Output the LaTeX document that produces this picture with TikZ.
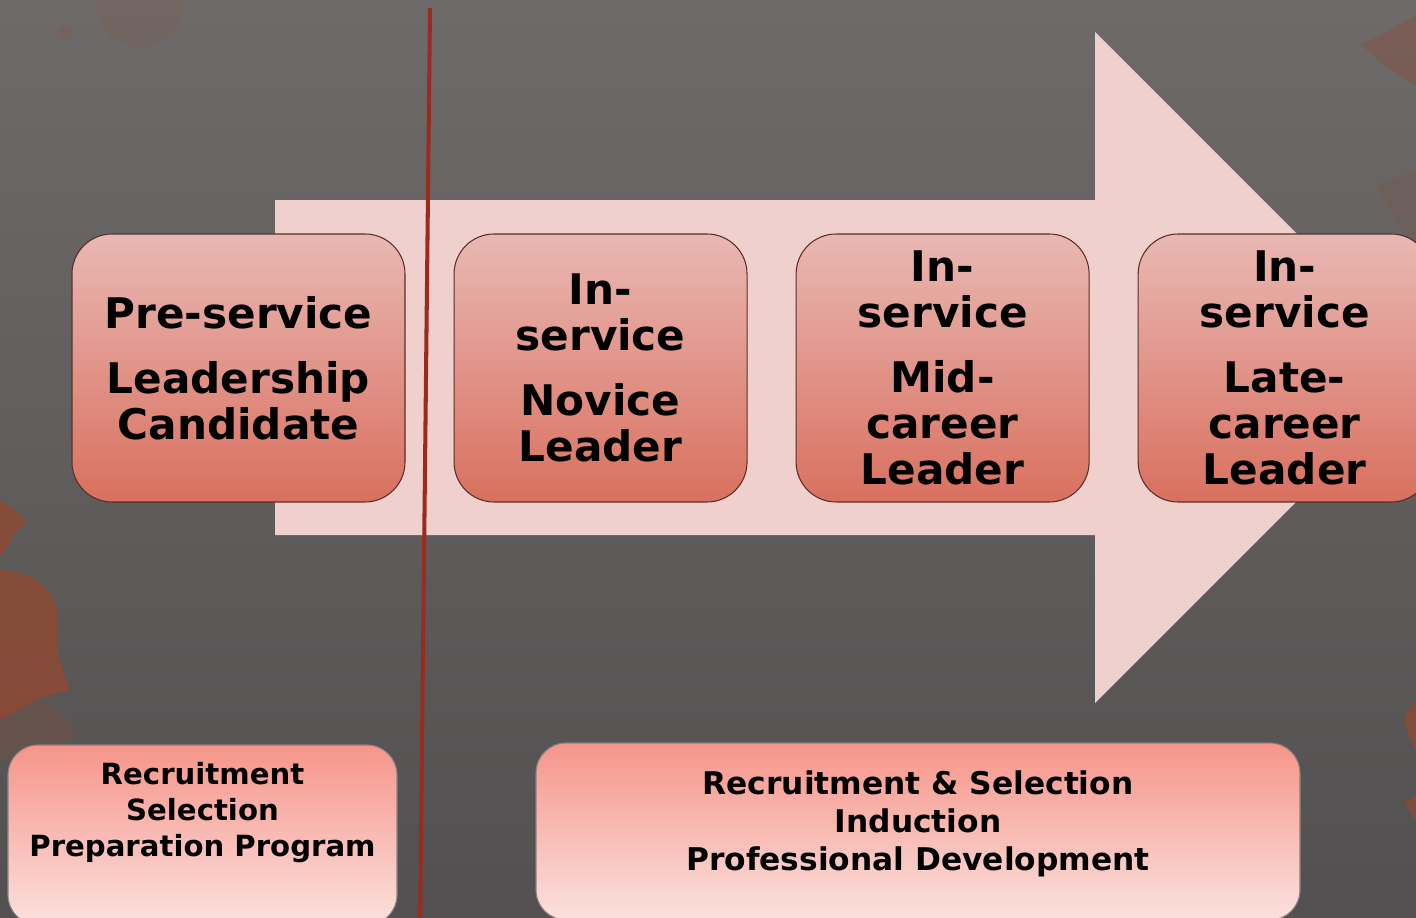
\documentclass[tikz,border=0pt]{standalone}
\usepackage{fontspec}
\setmainfont{DejaVu Sans}
\usepackage{tikz}
\usetikzlibrary{positioning}

\definecolor{bgtop}{HTML}{6E6A69}
\definecolor{bgbottom}{HTML}{525050}
\definecolor{leafred}{HTML}{8E4A35}
\definecolor{arrowpink}{HTML}{EFD0CD}
\definecolor{divider}{HTML}{9A2C1F}
\definecolor{stagetop}{HTML}{E9B8B3}
\definecolor{stagebottom}{HTML}{D9705F}
\definecolor{stageline}{HTML}{5A2E28}
\definecolor{tasktop}{HTML}{F6958A}
\definecolor{taskbottom}{HTML}{FBE1DE}
\definecolor{taskline}{HTML}{8A8080}

\newcommand{\stagefont}{\fontsize{12}{13.1}\selectfont\bfseries}
\newcommand{\taskfont}{\fontsize{8.3}{10.2}\selectfont\bfseries}

\begin{document}
\begin{tikzpicture}[node distance=0.48cm,
    stage/.style={rectangle, rounded corners=0.4cm, draw=stageline, line width=0.3pt,
        top color=stagetop, bottom color=stagebottom, minimum height=2.68cm,
        inner sep=0pt, align=center, font=\stagefont},
    task/.style={rectangle, rounded corners=0.3cm, draw=taskline, line width=0.3pt,
        top color=tasktop, bottom color=taskbottom, inner sep=0pt,
        align=center, font=\taskfont}]
        % Background
        \clip (0,0) rectangle (14.16,-9.18);
        \shade[top color=bgtop, bottom color=bgbottom] (0,0) rectangle (14.16,-9.18);

        % Faded leaves
        \fill[leafred, opacity=.12] (1.4,-0.02) circle (0.45);
        \fill[leafred, opacity=.2] (0.65,-0.33) circle (0.07);
        \fill[leafred, opacity=.85] (0,-5.0) .. controls (0.15,-5.1) and (0.3,-5.2) .. (0.26,-5.25)
            .. controls (0.1,-5.3) and (0.1,-5.5) .. (0,-5.55) -- cycle;
        \fill[leafred, opacity=.85] (0,-5.7) .. controls (0.45,-5.72) and (0.6,-6.0) .. (0.58,-6.25)
            .. controls (0.56,-6.5) .. (0.7,-6.9) .. controls (0.4,-6.95) and (0.2,-7.1) .. (0,-7.2) -- cycle;
        \fill[leafred, opacity=.25] (0,-7.0) .. controls (0.4,-6.95) and (0.75,-7.1) .. (0.75,-7.4)
            .. controls (0.5,-7.5) and (0.2,-7.6) .. (0,-7.6) -- cycle;
        \fill[leafred, opacity=.35] (14.16,-0.15) .. controls (13.9,-0.3) and (13.7,-0.4) .. (13.6,-0.45)
            .. controls (13.8,-0.6) and (14.0,-0.8) .. (14.16,-0.85) -- cycle;
        \fill[leafred, opacity=.15] (14.16,-1.7) .. controls (13.9,-1.8) .. (13.75,-1.85)
            .. controls (13.9,-2.1) .. (14.16,-2.5) -- cycle;
        \fill[leafred, opacity=.85] (14.16,-7.0) .. controls (14.08,-7.1) .. (14.05,-7.2)
            .. controls (14.08,-7.35) .. (14.16,-7.5) -- cycle;
        \fill[leafred, opacity=.7] (14.16,-7.95) .. controls (14.1,-8.0) .. (14.05,-8.0)
            .. controls (14.08,-8.1) .. (14.16,-8.2) -- cycle;

        % Career arrow
        \fill[arrowpink] (2.75,-2.0) -- (10.95,-2.0) -- (10.95,-0.32) -- (14.305,-3.675)
            -- (10.95,-7.03) -- (10.95,-5.35) -- (2.75,-5.35) -- cycle;

        % Pre-service / in-service divider
        \draw[divider, line width=1.15pt] (4.30,-0.08) -- (4.20,-9.3);

        % Stages
        \node (pre) [stage, minimum width=3.33cm] at (2.385,-3.68)
            {Pre-service\\[0.19cm]Leadership\\Candidate};
        \node (novice) [stage, minimum width=2.93cm, right=of pre]
            {In-\\service\\[0.19cm]Novice\\Leader};
        \node (mid) [stage, minimum width=2.93cm, right=of novice]
            {In-\\service\\[0.19cm]Mid-\\career\\Leader};
        \node (late) [stage, minimum width=2.93cm, right=of mid]
            {In-\\service\\[0.19cm]Late-\\career\\Leader};

        % Supports
        \node (prep) [task, minimum width=3.89cm, minimum height=1.80cm] at (2.025,-8.35)
            {Recruitment\\Selection\\Preparation Program\\[0.15cm]};
        \node (growth) [task, minimum width=7.64cm, minimum height=1.77cm,
            font=\fontsize{8.9}{10.8}\selectfont\bfseries] at (9.18,-8.315)
            {Recruitment \& Selection\\Induction\\Professional Development\\[-0.16cm]};
    \end{tikzpicture}
\end{document}
